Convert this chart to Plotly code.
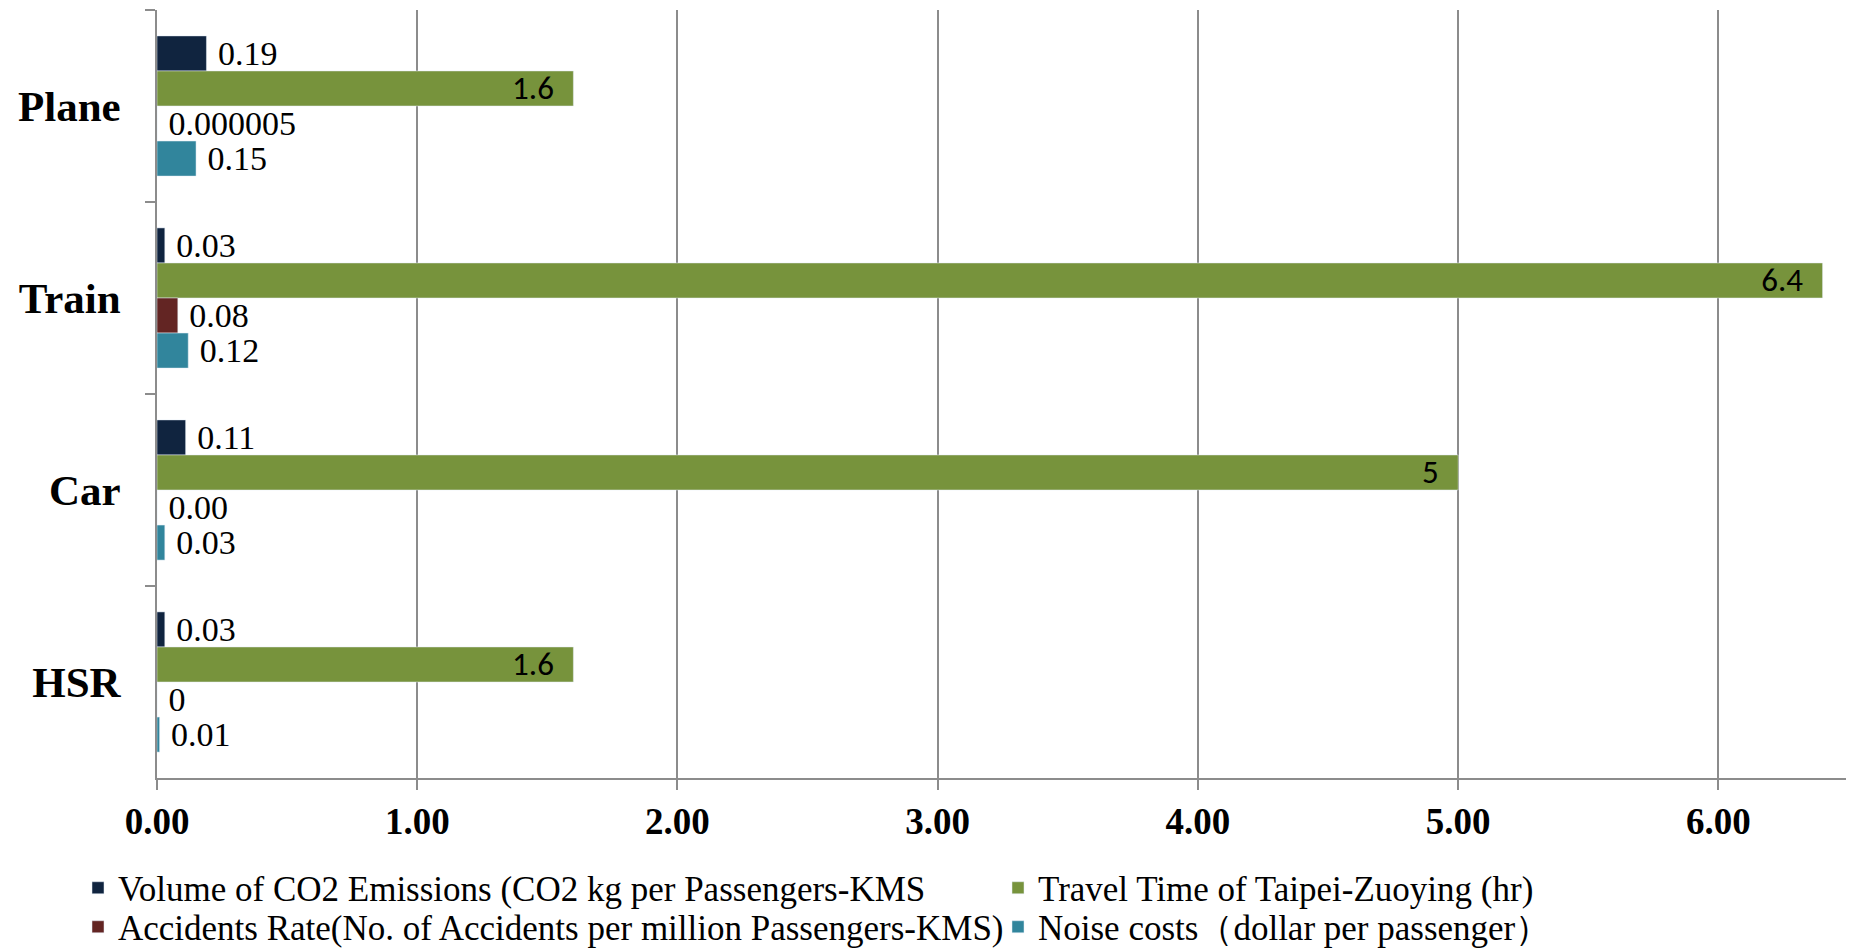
import plotly.graph_objects as go

categories = ["Plane", "Train", "Car", "HSR"]

co2_values = [0.19, 0.03, 0.11, 0.03]
travel_values = [1.6, 6.4, 5.0, 1.6]
accident_values = [0.000005, 0.08, 0.0, 0.0]
noise_values = [0.15, 0.12, 0.03, 0.01]

co2_labels = ["0.19", "0.03", "0.11", "0.03"]
travel_labels = ["1.6", "6.4", "5", "1.6"]
accident_labels = ["0.000005", "0.08", "0.00", "0"]
noise_labels = ["0.15", "0.12", "0.03", "0.01"]

series_names = [
    "Volume of CO2 Emissions (CO2 kg per Passengers-KMS",
    "Travel Time of Taipei-Zuoying (hr)",
    "Accidents Rate(No. of Accidents per million Passengers-KMS)",
    "Noise costs（dollar per passenger）",
]
x_ticks = [0, 1, 2, 3, 4, 5, 6]

SERIF = "Liberation Serif, Times New Roman, serif"
SANS = "Carlito, Calibri, Lato, sans-serif"
colors = ["#10243F", "#77933C", "#632523", "#31859C"]

outside_font = dict(family=SERIF, size=34, color="black")
outside_tmpl = "\u00a0%{text}"

fig = go.Figure()
fig.add_trace(go.Bar(
    y=categories, x=co2_values, orientation="h", name=series_names[0],
    marker=dict(color=colors[0]), text=co2_labels, texttemplate=outside_tmpl,
    textposition="outside", textangle=0,
    textfont=outside_font, constraintext="none", cliponaxis=False,
    legend="legend",
))
fig.add_trace(go.Bar(
    y=categories, x=travel_values, orientation="h", name=series_names[1],
    marker=dict(color=colors[1]), text=travel_labels,
    texttemplate="%{text}\u2002", textposition="inside", textangle=0,
    insidetextanchor="end", textfont=dict(family=SANS, size=33, color="black"),
    constraintext="none", legend="legend2",
))
fig.add_trace(go.Bar(
    y=categories, x=accident_values, orientation="h", name=series_names[2],
    marker=dict(color=colors[2]), text=accident_labels, texttemplate=outside_tmpl,
    textposition="outside", textangle=0,
    textfont=outside_font, constraintext="none", cliponaxis=False,
    legend="legend3",
))
fig.add_trace(go.Bar(
    y=categories, x=noise_values, orientation="h", name=series_names[3],
    marker=dict(color=colors[3]), text=noise_labels, texttemplate=outside_tmpl,
    textposition="outside", textangle=0,
    textfont=outside_font, constraintext="none", cliponaxis=False,
    legend="legend4",
))

legend_font = dict(family=SERIF, size=35, color="black")


def legend_box(xpx, ypx):
    return dict(
        xref="container", yref="container",
        x=xpx / 1855, y=1 - ypx / 949,
        xanchor="left", yanchor="middle", orientation="h",
        font=legend_font, bgcolor="rgba(0,0,0,0)", itemwidth=30,
    )


fig.update_layout(
    width=1855,
    height=949,
    margin=dict(l=157, r=9, t=10, b=171),
    paper_bgcolor="white",
    plot_bgcolor="white",
    barmode="group",
    bargap=0.27,
    bargroupgap=0,
    showlegend=True,
    legend=legend_box(78, 888),
    legend2=legend_box(998, 888),
    legend3=legend_box(78, 927),
    legend4=legend_box(998, 927),
    xaxis=dict(
        range=[0, 6.49],
        tickvals=x_ticks,
        tickformat=".2f",
        showgrid=True, gridcolor="#8c8c8c", gridwidth=1.5,
        zeroline=False,
        showline=True, linecolor="#8c8c8c", linewidth=1.5,
        ticks="outside", ticklen=10, tickcolor="#8c8c8c", tickwidth=1.5,
        tickfont=dict(family=SERIF, size=37, color="black", weight="bold"),
        ticklabelstandoff=0,
    ),
    yaxis=dict(
        categoryorder="array", categoryarray=categories,
        autorange="reversed",
        showgrid=False, zeroline=False,
        showline=True, linecolor="#8c8c8c", linewidth=1.5,
        ticks="outside", ticklen=10, tickcolor="#8c8c8c", tickwidth=1.5,
        tickson="boundaries",
        tickfont=dict(family=SERIF, size=43, color="black", weight="bold"),
        ticklabelstandoff=26,
    ),
)

fig.write_html("out.html")
